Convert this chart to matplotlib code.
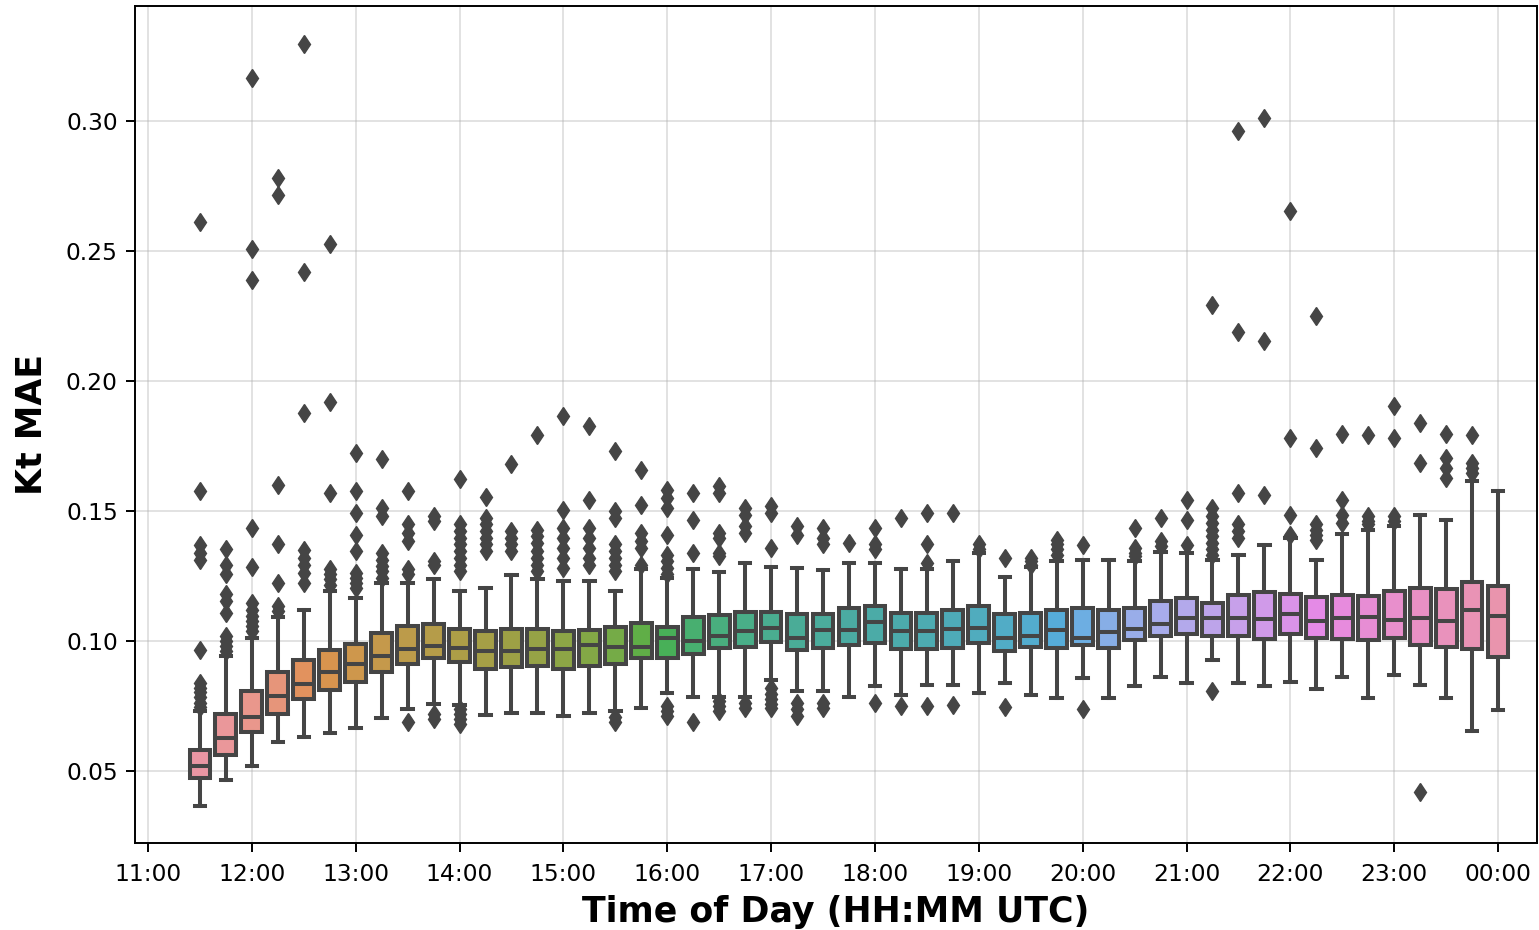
import matplotlib
matplotlib.use("Agg")
import matplotlib.pyplot as plt
import seaborn as sns
import colorsys

# ---------------- data ----------------
box_times = ["11:30", "11:45", "12:00", "12:15", "12:30", "12:45", "13:00", "13:15", "13:30", "13:45",
             "14:00", "14:15", "14:30", "14:45", "15:00", "15:15", "15:30", "15:45", "16:00", "16:15",
             "16:30", "16:45", "17:00", "17:15", "17:30", "17:45", "18:00", "18:15", "18:30", "18:45",
             "19:00", "19:15", "19:30", "19:45", "20:00", "20:15", "20:30", "20:45", "21:00", "21:15",
             "21:30", "21:45", "22:00", "22:15", "22:30", "22:45", "23:00", "23:15", "23:30", "23:45",
             "00:00"]

tick_labels = ["11:00", "12:00", "13:00", "14:00", "15:00", "16:00", "17:00", "18:00", "19:00",
               "20:00", "21:00", "22:00", "23:00", "00:00"]

q1 = [0.0472, 0.0563, 0.0651, 0.0721, 0.0776, 0.0811, 0.0844, 0.0879, 0.0913, 0.0936,
      0.0921, 0.0894, 0.0900, 0.0903, 0.0894, 0.0904, 0.0913, 0.0934, 0.0936, 0.0949,
      0.0972, 0.0977, 0.0997, 0.0964, 0.0974, 0.0983, 0.0991, 0.0968, 0.0968, 0.0974,
      0.0994, 0.0962, 0.0977, 0.0972, 0.0983, 0.0972, 0.1003, 0.1019, 0.1026, 0.1019,
      0.1019, 0.1006, 0.1028, 0.1013, 0.1006, 0.1003, 0.1013, 0.0985, 0.0977, 0.0968,
      0.0939]

median = [0.0518, 0.0625, 0.0706, 0.0788, 0.0834, 0.0882, 0.0910, 0.0942, 0.0968, 0.0981,
          0.0972, 0.0962, 0.0962, 0.0968, 0.0968, 0.0983, 0.0978, 0.0977, 0.1010, 0.1000,
          0.1019, 0.1038, 0.1051, 0.1013, 0.1041, 0.1041, 0.1073, 0.1038, 0.1038, 0.1047,
          0.1051, 0.1010, 0.1019, 0.1041, 0.1013, 0.1036, 0.1045, 0.1064, 0.1090, 0.1090,
          0.1090, 0.1086, 0.1102, 0.1077, 0.1090, 0.1092, 0.1081, 0.1090, 0.1077, 0.1121,
          0.1096]

q3 = [0.0581, 0.0719, 0.0806, 0.0882, 0.0926, 0.0964, 0.0987, 0.1029, 0.1056, 0.1066,
      0.1047, 0.1038, 0.1045, 0.1047, 0.1038, 0.1041, 0.1055, 0.1070, 0.1054, 0.1092,
      0.1098, 0.1113, 0.1113, 0.1102, 0.1105, 0.1125, 0.1134, 0.1106, 0.1106, 0.1121,
      0.1134, 0.1102, 0.1106, 0.1119, 0.1125, 0.1118, 0.1125, 0.1153, 0.1166, 0.1147,
      0.1176, 0.1189, 0.1182, 0.1169, 0.1175, 0.1173, 0.1194, 0.1205, 0.1198, 0.1226,
      0.1210]

whisker_low = [0.0367, 0.0467, 0.0520, 0.0613, 0.0629, 0.0646, 0.0665, 0.0703, 0.0737, 0.0757,
               0.0754, 0.0716, 0.0722, 0.0722, 0.0710, 0.0722, 0.0729, 0.0744, 0.0798, 0.0785,
               0.0783, 0.0785, 0.0849, 0.0806, 0.0806, 0.0785, 0.0825, 0.0792, 0.0831, 0.0831,
               0.0798, 0.0840, 0.0793, 0.0779, 0.0856, 0.0779, 0.0827, 0.0862, 0.0840, 0.0926,
               0.0840, 0.0827, 0.0843, 0.0815, 0.0862, 0.0779, 0.0868, 0.0831, 0.0779, 0.0652,
               0.0734]

whisker_high = [0.0729, 0.0942, 0.1013, 0.1092, 0.1118, 0.1194, 0.1166, 0.1223, 0.1223, 0.1237,
                0.1194, 0.1202, 0.1253, 0.1237, 0.1230, 0.1230, 0.1194, 0.1275, 0.1243, 0.1277,
                0.1265, 0.1298, 0.1285, 0.1279, 0.1272, 0.1298, 0.1298, 0.1277, 0.1275, 0.1306,
                0.1339, 0.1246, 0.1285, 0.1307, 0.1312, 0.1312, 0.1309, 0.1341, 0.1340, 0.1313,
                0.1329, 0.1368, 0.1395, 0.1313, 0.1412, 0.1428, 0.1441, 0.1486, 0.1467, 0.1614,
                0.1578]

outliers = [
    [0.261, 0.1575, 0.1368, 0.1339, 0.131, 0.0964, 0.084, 0.0821, 0.0802, 0.0783, 0.0763, 0.0747],
    [0.1354, 0.1294, 0.1256, 0.1179, 0.1153, 0.1109, 0.1019, 0.100, 0.098, 0.0962],
    [0.3165, 0.2508, 0.2388, 0.1435, 0.1285, 0.1147, 0.1121, 0.1096, 0.1077, 0.1058, 0.1038],
    [0.278, 0.2716, 0.16, 0.1373, 0.1224, 0.1134, 0.1115],
    [0.3296, 0.2419, 0.1877, 0.135, 0.132, 0.1294, 0.1262, 0.1224],
    [0.2527, 0.192, 0.1569, 0.1275, 0.1256, 0.1237, 0.1217],
    [0.1723, 0.1575, 0.1492, 0.1409, 0.1345, 0.1262, 0.1243, 0.1224, 0.1205],
    [0.170, 0.1512, 0.148, 0.1339, 0.1313, 0.1288, 0.1269, 0.1243],
    [0.1575, 0.1448, 0.1416, 0.1384, 0.1275, 0.1256, 0.0687],
    [0.148, 0.146, 0.1307, 0.1294, 0.0719, 0.070],
    [0.1624, 0.1448, 0.1422, 0.1396, 0.1371, 0.1345, 0.132, 0.1294, 0.1269, 0.0738, 0.0719, 0.070, 0.068],
    [0.1554, 0.1473, 0.1448, 0.1422, 0.1396, 0.1371, 0.1345],
    [0.1682, 0.1422, 0.1396, 0.1371, 0.1345],
    [0.1793, 0.1428, 0.1403, 0.1377, 0.1345, 0.132, 0.1294, 0.1269],
    [0.1867, 0.1505, 0.1435, 0.1396, 0.1358, 0.132, 0.1281],
    [0.1825, 0.1543, 0.1435, 0.1396, 0.1358, 0.132, 0.1294],
    [0.1729, 0.1499, 0.1473, 0.1371, 0.1345, 0.132, 0.1294, 0.1269, 0.0706, 0.0687],
    [0.1659, 0.1524, 0.1416, 0.1384, 0.1358, 0.1294],
    [0.1582, 0.155, 0.1512, 0.1409, 0.1332, 0.1307, 0.1281, 0.1256, 0.0751, 0.0731, 0.0712],
    [0.1569, 0.1467, 0.1339, 0.0687],
    [0.1595, 0.1569, 0.1416, 0.1396, 0.1339, 0.1326, 0.077, 0.0751, 0.0731],
    [0.1512, 0.1486, 0.1441, 0.1416, 0.0763, 0.0744],
    [0.1518, 0.1492, 0.1358, 0.0821, 0.0795, 0.0776, 0.0757, 0.0744],
    [0.1441, 0.1409, 0.0763, 0.0738, 0.0712],
    [0.1435, 0.1396, 0.1371, 0.0763, 0.0744],
    [0.1377],
    [0.1435, 0.1371, 0.1352, 0.0763],
    [0.1471, 0.0751],
    [0.1492, 0.1371, 0.130, 0.0751],
    [0.1492, 0.0754],
    [0.1371, 0.1352],
    [0.132, 0.0747],
    [0.132, 0.1307, 0.1294],
    [0.139, 0.1371, 0.1352, 0.1332],
    [0.1368, 0.0738],
    [],
    [0.1435, 0.1358, 0.1339, 0.1326],
    [0.1471, 0.1384, 0.1364],
    [0.1543, 0.1467, 0.1368],
    [0.2292, 0.1512, 0.148, 0.1454, 0.1428, 0.1403, 0.1377, 0.1352, 0.1332, 0.0808],
    [0.2962, 0.2188, 0.1569, 0.1448, 0.1422, 0.1396],
    [0.3012, 0.2154, 0.1563],
    [0.2654, 0.178, 0.1486, 0.1409],
    [0.225, 0.1742, 0.1448, 0.1428, 0.1409, 0.139],
    [0.1797, 0.1543, 0.1486, 0.1454],
    [0.1793, 0.148, 0.146, 0.1448],
    [0.1902, 0.178, 0.148, 0.146],
    [0.1838, 0.1684, 0.0418],
    [0.1797, 0.1703, 0.1665, 0.1627],
    [0.1793, 0.1684, 0.1665, 0.1646],
    [],
]


def to_hours(label, day_start=11):
    h, m = label.split(":")
    h = int(h)
    if h < day_start:
        h += 24
    return h + int(m) / 60.0


positions = [to_hours(t) for t in box_times]
tick_pos = [to_hours(t) for t in tick_labels]

# seaborn-style colours (husl palette, desaturated)
pal = sns.husl_palette(len(box_times), l=.7)
colors = [sns.desaturate(c, .75) for c in pal]
lum = min(colorsys.rgb_to_hls(*c)[1] for c in colors) * .6
gray = (lum, lum, lum)

# ---------------- figure ----------------
W, H = 1539, 930
fig = plt.figure(figsize=(W / 100, H / 100), dpi=100)
ax = fig.add_axes([135 / W, 1 - 843 / H, (1537 - 135) / W, (843 - 6) / H])

stats = []
for i, t in enumerate(box_times):
    stats.append(dict(label=t, q1=q1[i], med=median[i], q3=q3[i],
                      whislo=whisker_low[i], whishi=whisker_high[i], fliers=outliers[i]))

lw = 2.9
bp = ax.bxp(stats, positions=positions, widths=0.2, patch_artist=True,
            boxprops=dict(edgecolor=gray, linewidth=lw),
            medianprops=dict(color=gray, linewidth=lw),
            whiskerprops=dict(color=gray, linewidth=lw),
            capprops=dict(color=gray, linewidth=lw),
            flierprops=dict(marker="d", markerfacecolor=gray, markeredgecolor=gray,
                            markersize=9.5, linestyle="none"),
            manage_ticks=False)
for patch, c in zip(bp["boxes"], colors):
    patch.set_facecolor(c)

ax.set_xlim(10.875, 24.375)
ax.set_ylim(0.0223, 0.3442)
ax.set_xticks(tick_pos)
ax.set_xticklabels(tick_labels)
ax.set_yticks([0.05, 0.10, 0.15, 0.20, 0.25, 0.30])
ax.set_yticklabels(["0.05", "0.10", "0.15", "0.20", "0.25", "0.30"])

ax.set_axisbelow(True)
ax.grid(True, color="#b0b0b0", alpha=0.4, linewidth=1.3)

for s in ax.spines.values():
    s.set_linewidth(1.4)
    s.set_color("black")
ax.tick_params(axis="both", labelsize=16.8, length=6.2, width=1.4, colors="black")
ax.tick_params(axis="x", pad=8.5)
ax.tick_params(axis="y", pad=6.2)

ax.set_xlabel("Time of Day (HH:MM UTC)", fontsize=25, fontweight="bold", labelpad=6)
ax.set_ylabel("Kt MAE", fontsize=25, fontweight="bold", labelpad=12)

fig.savefig("out.png", dpi=100)
